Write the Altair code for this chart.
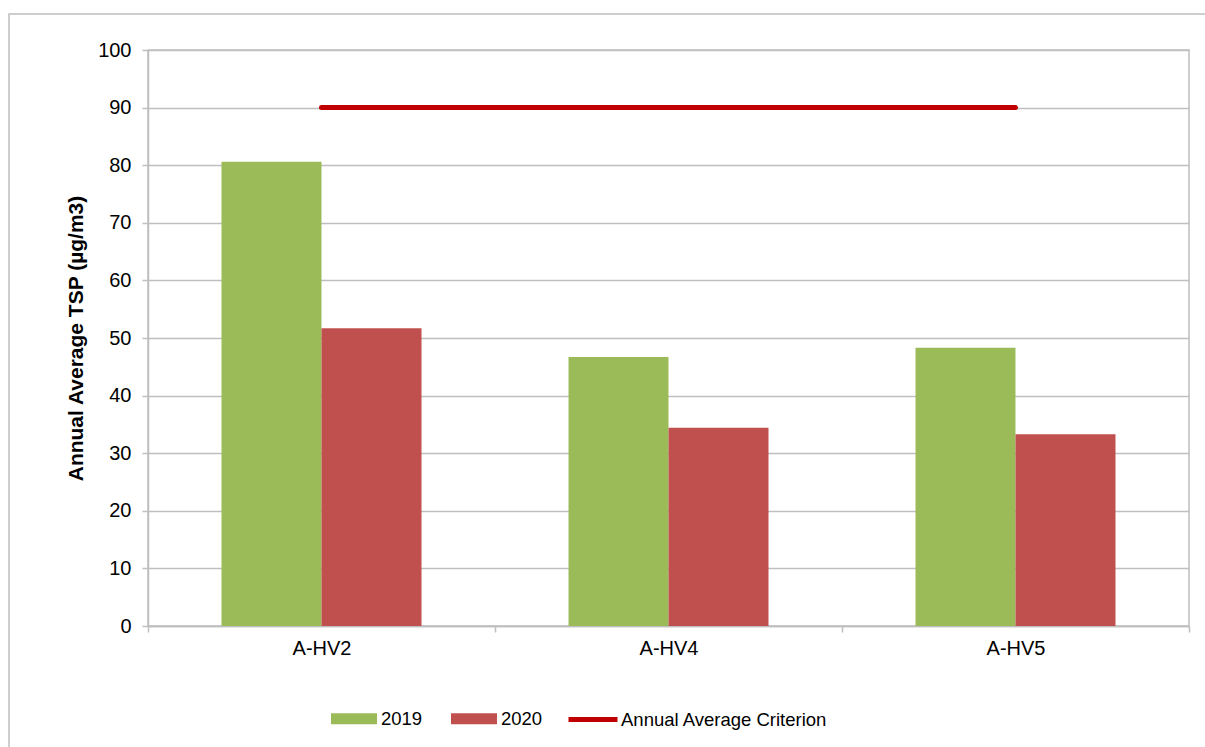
import altair as alt
import pandas as pd

sites = ["A-HV2", "A-HV4", "A-HV5"]
years = ["2019", "2020"]
values_2019 = [80.6, 46.7, 48.3]
values_2020 = [51.7, 34.4, 33.3]
criterion = [90, 90, 90]
criterion_name = "Annual Average Criterion"
year_colors = ["#9BBB59", "#C0504D"]
criterion_color = "#C00000"

rows = []
for s, v in zip(sites, values_2019):
    rows.append({"site": s, "series": "2019", "value": v})
for s, v in zip(sites, values_2020):
    rows.append({"site": s, "series": "2020", "value": v})
bars_df = pd.DataFrame(rows)
line_df = pd.DataFrame({"site": sites, "series": criterion_name, "value": criterion})

FONT = "Liberation Sans"
GRID = "#BFBFBF"

xscale = alt.Scale(domain=sites, paddingInner=0, paddingOuter=0)
yscale = alt.Scale(domain=[0, 100], nice=False)

bar_legend = alt.Legend(
    orient="none", legendX=183, legendY=645.5, direction="horizontal", title=None,
    labelFont=FONT, labelFontSize=18.5, labelColor="black", labelOffset=4, labelLimit=400,
    columnPadding=28, symbolSize=2116, symbolStrokeWidth=0,
    symbolType="M-1,-0.24H1V0.24H-1Z", symbolOpacity=1,
)
line_legend = alt.Legend(
    orient="none", legendX=418, legendY=642.5, direction="horizontal", title=None,
    labelFont=FONT, labelFontSize=18.5, labelColor="black", labelOffset=1, labelLimit=400,
    symbolSize=2401, symbolStrokeWidth=5, symbolType="stroke", symbolOpacity=1,
)

xaxis = alt.Axis(title=None, labelFont=FONT, labelFontSize=20, labelColor="black",
                 domainColor=GRID, domainWidth=1.5, tickColor=GRID, tickWidth=1.5, tickSize=6,
                 tickBand="extent", labelPadding=6, grid=False, labelAngle=0)
yaxis = alt.Axis(title="Annual Average TSP (µg/m3)", values=list(range(0, 101, 10)),
                 labelFont=FONT, labelFontSize=20, labelColor="black", labelPadding=11,
                 domainColor=GRID, domainWidth=1.5, tickColor=GRID, tickWidth=1.5, tickSize=6,
                 gridColor=GRID, gridWidth=1.5,
                 titleFont=FONT, titleFontSize=21, titleFontWeight="bold", titleColor="black",
                 titleAngle=270, titleAlign="center", titleBaseline="middle",
                 titleX=-72, titleY=288)

border = alt.Chart(pd.DataFrame({"a": [0]})).mark_rect(
    fill=None, stroke=GRID, strokeWidth=1.5, clip=False
).encode(x=alt.value(-139), x2=alt.value(1100), y=alt.value(-36), y2=alt.value(800))

bars = alt.Chart(bars_df).mark_bar().encode(
    x=alt.X("site:N", scale=xscale, axis=xaxis, sort=sites),
    xOffset=alt.XOffset("series:N", sort=years,
                        scale=alt.Scale(paddingInner=0, paddingOuter=0.735)),
    y=alt.Y("value:Q", scale=yscale, axis=yaxis),
    color=alt.Color("series:N", scale=alt.Scale(domain=years, range=year_colors), legend=bar_legend),
)

line = alt.Chart(line_df).mark_line(strokeWidth=5, strokeCap="round").encode(
    x=alt.X("site:N", scale=xscale, sort=sites),
    y=alt.Y("value:Q", scale=yscale),
    stroke=alt.Stroke("series:N", scale=alt.Scale(domain=[criterion_name], range=[criterion_color]),
                      legend=line_legend),
)

chart = alt.layer(border, bars, line).properties(
    width=1041, height=576,
    autosize=alt.AutoSizeParams(type="none"),
    padding={"left": 148, "top": 50, "right": 16, "bottom": 121},
    background="white",
).configure_view(stroke=GRID, strokeWidth=1.5)

chart.save("out.html", embed_options={"renderer": "svg", "actions": False})
